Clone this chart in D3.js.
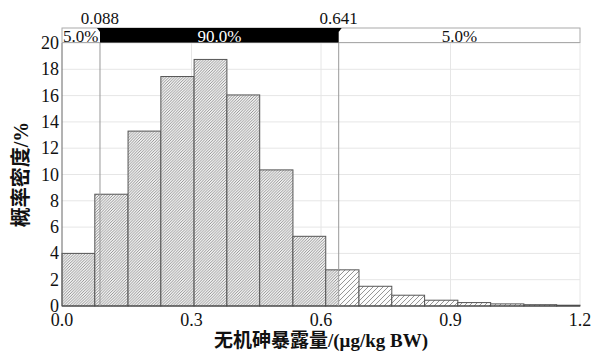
<!DOCTYPE html>
<html>
<head>
<meta charset="utf-8">
<script src="https://cdn.jsdelivr.net/npm/d3@7/dist/d3.min.js"></script>
<style>
  html, body { margin: 0; padding: 0; background: #fff; }
  svg { display: block; }
</style>
</head>
<body>
<div id="chart"></div>
<script>
// Bordes de las clases del histograma (µg/kg BW)
const binEdges = [0, 0.076, 0.153, 0.229, 0.306, 0.382, 0.458, 0.535, 0.611, 0.688, 0.764, 0.840, 0.917, 0.993, 1.070, 1.146, 1.2];
// Densidad de probabilidad (%) de cada clase
const density = [4.0, 8.5, 13.3, 17.45, 18.75, 16.05, 10.35, 5.3, 2.75, 1.5, 0.82, 0.44, 0.26, 0.16, 0.1, 0.06];
const xTicks = [0.0, 0.3, 0.6, 0.9, 1.2];
const yTicks = [0, 2, 4, 6, 8, 10, 12, 14, 16, 18, 20];
// Percentiles 5% y 95%
const cutLow = 0.088;
const cutHigh = 0.641;
const cutLabels = ["0.088", "0.641"];
const bandLabels = ["5.0%", "90.0%", "5.0%"];
const xTitle = "无机砷暴露量/(μg/kg BW)";
const yTitle = "概率密度/%";

const SERIF = "'Liberation Serif', 'Times New Roman', Times, 'DejaVu Serif', serif";
const CJK = "'Liberation Serif', 'Times New Roman', 'Noto Sans CJK SC', serif";

const width = 595, height = 351;
const margin = { left: 62, right: 15, top: 43, bottom: 45 };

const svg = d3.select("#chart").append("svg")
  .attr("width", width).attr("height", height)
  .attr("font-family", SERIF);

const x = d3.scaleLinear().domain([0, 1.2]).range([margin.left, width - margin.right]);
const y = d3.scaleLinear().domain([0, 20]).range([height - margin.bottom, margin.top]);

// Patrones de rayado
const defs = svg.append("defs");
function hatch(id, size, color, sw, bg) {
  const p = defs.append("pattern").attr("id", id)
    .attr("patternUnits", "userSpaceOnUse").attr("width", size).attr("height", size);
  p.append("rect").attr("width", size).attr("height", size).attr("fill", bg);
  p.append("path")
    .attr("d", `M0,${size} L${size},0 M${-size/2},${size/2} L${size/2},${-size/2} M${size/2},${size*1.5} L${size*1.5},${size/2}`)
    .attr("stroke", color).attr("stroke-width", sw);
}
hatch("dense", 2.8, "#8a8a8a", 0.9, "#f2f2f2");
hatch("sparse", 5, "#888", 0.9, "#fcfcfc");

// Rejilla
svg.append("g").selectAll("line").data(yTicks.slice(1)).enter().append("line")
  .attr("x1", x(0)).attr("x2", x(1.2))
  .attr("y1", d => y(d)).attr("y2", d => y(d))
  .attr("stroke", "#e6e6e6").attr("stroke-width", 1);
svg.append("g").selectAll("line").data(xTicks.slice(1)).enter().append("line")
  .attr("x1", d => x(d)).attr("x2", d => x(d))
  .attr("y1", y(0)).attr("y2", y(20))
  .attr("stroke", "#e6e6e6").attr("stroke-width", 1);

// Barras
const bins = density.map((d, i) => ({ x0: binEdges[i], x1: binEdges[i + 1], v: d }));
const gBars = svg.append("g");
bins.forEach(b => {
  // parte dentro del 95%
  if (b.x0 < cutHigh) {
    const e = Math.min(b.x1, cutHigh);
    gBars.append("rect")
      .attr("x", x(b.x0)).attr("y", y(b.v))
      .attr("width", x(e) - x(b.x0)).attr("height", y(0) - y(b.v))
      .attr("fill", "url(#dense)");
  }
  if (b.x1 > cutHigh) {
    const s = Math.max(b.x0, cutHigh);
    gBars.append("rect")
      .attr("x", x(s)).attr("y", y(b.v))
      .attr("width", x(b.x1) - x(s)).attr("height", y(0) - y(b.v))
      .attr("fill", "url(#sparse)");
  }
  gBars.append("rect")
    .attr("x", x(b.x0)).attr("y", y(b.v))
    .attr("width", x(b.x1) - x(b.x0)).attr("height", y(0) - y(b.v))
    .attr("fill", "none").attr("stroke", "#555").attr("stroke-width", 1);
});

// Ejes
svg.append("line").attr("x1", x(0)).attr("x2", x(0)).attr("y1", y(0)).attr("y2", y(20))
  .attr("stroke", "#666").attr("stroke-width", 1);
svg.append("line").attr("x1", x(0)).attr("x2", x(1.2)).attr("y1", y(0)).attr("y2", y(0))
  .attr("stroke", "#444").attr("stroke-width", 1);

svg.append("g").selectAll("text").data(yTicks).enter().append("text")
  .attr("x", x(0) - 3).attr("y", d => y(d) + 6)
  .attr("text-anchor", "end").attr("font-size", 18).attr("fill", "#111")
  .text(d => d);
svg.append("g").selectAll("text").data(xTicks).enter().append("text")
  .attr("x", d => x(d)).attr("y", y(0) + 20)
  .attr("text-anchor", "middle").attr("font-size", 18).attr("fill", "#111")
  .text(d => d.toFixed(1));

// Líneas de percentiles
[cutLow, cutHigh].forEach(c => {
  svg.append("line").attr("x1", x(c)).attr("x2", x(c)).attr("y1", 28).attr("y2", y(0))
    .attr("stroke", "#999").attr("stroke-width", 1);
});

// Banda superior
const bandTop = 28, bandBot = y(20) - 0.5;
svg.append("rect").attr("x", x(0)).attr("y", bandTop)
  .attr("width", x(1.2) - x(0)).attr("height", bandBot - bandTop)
  .attr("fill", "#fff").attr("stroke", "#aaa").attr("stroke-width", 1);
svg.append("rect").attr("x", x(cutLow)).attr("y", bandTop)
  .attr("width", x(cutHigh) - x(cutLow)).attr("height", bandBot - bandTop)
  .attr("fill", "#000");
[cutLow, cutHigh].forEach(c => {
  svg.append("path")
    .attr("d", `M${x(c) - 3},${bandTop} L${x(c) + 3},${bandTop} L${x(c)},${bandTop + 4}Z`)
    .attr("fill", "#000");
});
svg.append("text").attr("x", x(0) + 1).attr("y", 42).attr("font-size", 17).attr("fill", "#111").text(bandLabels[0]);
svg.append("text").attr("x", (x(cutLow) + x(cutHigh)) / 2).attr("y", 42)
  .attr("text-anchor", "middle").attr("font-size", 17).attr("fill", "#fff").text(bandLabels[1]);
svg.append("text").attr("x", (x(cutHigh) + x(1.2)) / 2).attr("y", 42)
  .attr("text-anchor", "middle").attr("font-size", 17).attr("fill", "#111").text(bandLabels[2]);
svg.append("text").attr("x", x(cutLow)).attr("y", 24)
  .attr("text-anchor", "middle").attr("font-size", 17).attr("fill", "#111").text(cutLabels[0]);
svg.append("text").attr("x", x(cutHigh)).attr("y", 24)
  .attr("text-anchor", "middle").attr("font-size", 17).attr("fill", "#111").text(cutLabels[1]);

// Títulos
svg.append("text").attr("font-family", CJK)
  .attr("x", (x(0) + x(1.2)) / 2).attr("y", 347)
  .attr("text-anchor", "middle").attr("font-size", 19).attr("font-weight", "bold").attr("fill", "#111")
  .text(xTitle);
svg.append("text").attr("font-family", CJK)
  .attr("transform", `translate(28, ${(y(0) + y(20)) / 2}) rotate(-90)`)
  .attr("text-anchor", "middle").attr("font-size", 20).attr("font-weight", "bold").attr("fill", "#111")
  .text(yTitle);
</script>
</body>
</html>
